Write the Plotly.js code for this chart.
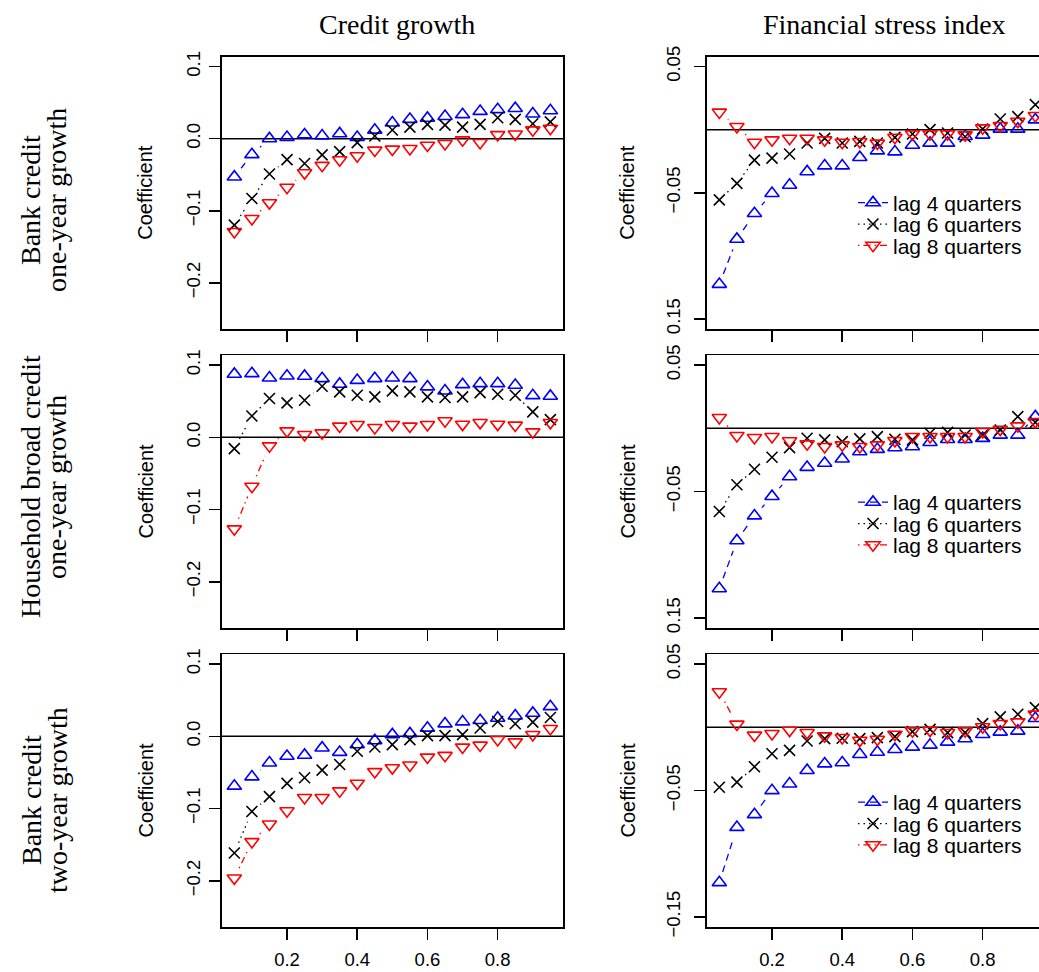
<!DOCTYPE html>
<html><head><meta charset="utf-8">
<script src="https://cdn.plot.ly/plotly-3.0.1.min.js"></script>
<style>html,body{margin:0;padding:0;background:#fff;} #chart{width:1039px;height:972px;}</style>
</head><body><div id="chart"></div>
<script>
// ---------------- data ----------------
const quantiles = [0.05,0.10,0.15,0.20,0.25,0.30,0.35,0.40,0.45,0.50,0.55,0.60,0.65,0.70,0.75,0.80,0.85,0.90,0.95];
const seriesNames = ['lag 4 quarters','lag 6 quarters','lag 8 quarters'];
const columnTitles = ['Credit growth','Financial stress index'];
const rowTitles = [['Bank credit','one-year growth'],['Household broad credit','one-year growth'],['Bank credit','two-year growth']];
const leftTickVals = [-0.2,-0.1,0.0,0.1];
const leftTickText = ['\u22120.2','\u22120.1','0.0','0.1'];
const rightTickVals = [-0.15,-0.05,0.05];
const rightTickTextTop = ['0.15','\u22120.05','0.05'];
const rightTickTextBottom = ['\u22120.15','\u22120.05','0.05'];
const xTickVals = [0.2,0.4,0.6,0.8];
const xTickText = ['0.2','0.4','0.6','0.8'];

// Credit growth column
const cg_bank1y_lag4 = [-0.053,-0.022,0.000,0.002,0.0055,0.004,0.007,0.002,0.012,0.022,0.027,0.0285,0.031,0.0335,0.038,0.0405,0.042,0.0345,0.039];
const cg_bank1y_lag6 = [-0.120,-0.083,-0.049,-0.029,-0.0345,-0.0225,-0.018,-0.0055,0.0037,0.012,0.016,0.0198,0.0189,0.016,0.0198,0.029,0.0267,0.0207,0.0234];
const cg_bank1y_lag8 = [-0.129,-0.111,-0.089,-0.0676,-0.0474,-0.0372,-0.0294,-0.0239,-0.0161,-0.0147,-0.0138,-0.0092,-0.0069,-0.0018,-0.0055,0.0055,0.0064,0.012,0.0143];

const cg_hh1y_lag4 = [0.0875,0.0884,0.0824,0.085,0.0847,0.0815,0.0736,0.079,0.0815,0.0824,0.0815,0.070,0.0644,0.0731,0.0745,0.0745,0.0722,0.0579,0.057];
const cg_hh1y_lag6 = [-0.0157,0.0296,0.0537,0.0477,0.0514,0.0708,0.063,0.0583,0.056,0.0644,0.063,0.056,0.0551,0.056,0.062,0.0597,0.0583,0.0352,0.0245];
const cg_hh1y_lag8 = [-0.1269,-0.068,-0.012,0.0088,0.0037,0.006,0.0153,0.0176,0.0134,0.0176,0.0153,0.0176,0.0227,0.018,0.0204,0.018,0.0167,0.0074,0.0204];

const cg_bank2y_lag4 = [-0.0688,-0.056,-0.0367,-0.0275,-0.0261,-0.016,-0.022,-0.0115,-0.006,0.0023,0.0037,0.0115,0.0174,0.0202,0.022,0.0252,0.0284,0.0321,0.0413];
const cg_bank2y_lag6 = [-0.1615,-0.1041,-0.0835,-0.0651,-0.0573,-0.0468,-0.039,-0.0206,-0.0147,-0.0115,-0.0046,0.0009,0.0009,0.0023,0.0115,0.0206,0.0174,0.0197,0.0261];
const cg_bank2y_lag8 = [-0.1963,-0.1459,-0.1216,-0.1032,-0.0849,-0.0849,-0.0757,-0.0651,-0.0491,-0.0436,-0.0399,-0.0289,-0.0266,-0.0151,-0.0124,-0.0046,-0.0078,0.0023,0.0106];

// Financial stress index column
const fsi_bank1y_lag4 = [-0.1225,-0.0868,-0.0664,-0.0505,-0.0439,-0.0333,-0.0286,-0.0286,-0.022,-0.0167,-0.0175,-0.0122,-0.0106,-0.0106,-0.0053,-0.0042,0.0005,0.0005,0.0079];
const fsi_bank1y_lag6 = [-0.0556,-0.0426,-0.0241,-0.0225,-0.0193,-0.0106,-0.0069,-0.0106,-0.0093,-0.0106,-0.0061,-0.0034,0.0,-0.0026,-0.0056,0.0005,0.0085,0.0103,0.0198];
const fsi_bank1y_lag8 = [0.0138,0.0024,-0.0101,-0.0082,-0.0069,-0.0069,-0.0082,-0.0101,-0.0095,-0.0108,-0.0061,-0.0034,-0.0034,-0.0034,-0.0042,0.0013,0.0032,0.0066,0.0111];

const fsi_hh1y_lag4 = [-0.1268,-0.0889,-0.0692,-0.0539,-0.0382,-0.0308,-0.0276,-0.0242,-0.0184,-0.0166,-0.0153,-0.0145,-0.0111,-0.0087,-0.0087,-0.0079,-0.0053,-0.0053,0.0092];
const fsi_hh1y_lag6 = [-0.0658,-0.0447,-0.0324,-0.0229,-0.0153,-0.0079,-0.0092,-0.0105,-0.0084,-0.0066,-0.0087,-0.0092,-0.0039,-0.0032,-0.0053,-0.0053,-0.0013,0.0092,0.0047];
const fsi_hh1y_lag8 = [0.0084,-0.0058,-0.0074,-0.0066,-0.01,-0.0124,-0.0145,-0.0132,-0.0145,-0.0132,-0.0097,-0.0066,-0.0066,-0.0066,-0.0066,-0.0026,-0.0008,0.0018,0.0053];

const fsi_bank2y_lag4 = [-0.1228,-0.0791,-0.069,-0.05,-0.0447,-0.0341,-0.0288,-0.028,-0.0214,-0.0196,-0.0175,-0.0156,-0.014,-0.0116,-0.009,-0.0056,-0.0037,-0.0029,0.0071];
const fsi_bank2y_lag6 = [-0.0474,-0.0434,-0.0312,-0.0209,-0.0183,-0.0108,-0.009,-0.0087,-0.009,-0.0082,-0.0074,-0.0034,-0.0016,-0.0042,-0.0042,0.0029,0.0082,0.0103,0.0156];
const fsi_bank2y_lag8 = [0.028,0.0024,-0.0063,-0.005,-0.0024,-0.0042,-0.0069,-0.0082,-0.0103,-0.0095,-0.0056,-0.0029,-0.0024,-0.0042,-0.0029,0.0003,0.0029,0.0042,0.0103];

// ---------------- layout geometry ----------------
const W = 1039, H = 972;
const colPx = [[221.7, 563], [706.7, 1039]];
const rowPx = [[56.5, 329], [355, 628], [654, 927]];
const xUnitPx = (563 - 221.7) / 0.972;
const xRanges = [[0.014, 0.986], [0.014, 0.014 + (1039 - 706.7) / xUnitPx]];
const yRanges = [[-0.264, 0.114], [-0.158, 0.058]];

const styles = [
  {color:'#0000FF', symbol:'triangle-up-open', dash:'7px,5px', size:12.5},
  {color:'#000000', symbol:'x-thin-open', dash:'1.5px,4px', size:11},
  {color:'#FF0000', symbol:'triangle-down-open', dash:'1.5px,4px,7px,4px', size:12.5}
];

const panels = [
  {row:0, col:0, series:[cg_bank1y_lag4, cg_bank1y_lag6, cg_bank1y_lag8]},
  {row:0, col:1, series:[fsi_bank1y_lag4, fsi_bank1y_lag6, fsi_bank1y_lag8], legend:'legend'},
  {row:1, col:0, series:[cg_hh1y_lag4, cg_hh1y_lag6, cg_hh1y_lag8]},
  {row:1, col:1, series:[fsi_hh1y_lag4, fsi_hh1y_lag6, fsi_hh1y_lag8], legend:'legend2'},
  {row:2, col:0, series:[cg_bank2y_lag4, cg_bank2y_lag6, cg_bank2y_lag8]},
  {row:2, col:1, series:[fsi_bank2y_lag4, fsi_bank2y_lag6, fsi_bank2y_lag8], legend:'legend3'}
];
const legendTopOffset = [126, 127, 128];

const GAP = 11; // px gap around points (R type="b")
function gapped(xs, ys, sx, sy) {
  const gx = [], gy = [];
  for (let i = 0; i < xs.length - 1; i++) {
    const dx = xs[i+1] - xs[i], dy = ys[i+1] - ys[i];
    const L = Math.hypot(dx * sx, dy * sy);
    if (L > 2 * GAP) {
      const t = GAP / L;
      gx.push(xs[i] + t * dx, xs[i+1] - t * dx, null);
      gy.push(ys[i] + t * dy, ys[i+1] - t * dy, null);
    }
  }
  return {x: gx, y: gy};
}

const tickFont = {family:'Liberation Sans, Arial, sans-serif', size:18.5, color:'#000'};
const data = [];
const layout = {
  width: W, height: H,
  margin: {l:0, r:0, t:0, b:0},
  paper_bgcolor: '#fff', plot_bgcolor: '#fff',
  showlegend: true,
  shapes: [], annotations: []
};

panels.forEach((p, i) => {
  const s = i === 0 ? '' : String(i + 1);
  const xa = 'x' + s, ya = 'y' + s;
  const xr = xRanges[p.col], yr = yRanges[p.col];
  const [px0, px1] = colPx[p.col];
  const [py0, py1] = rowPx[p.row];
  const sx = (px1 - px0) / (xr[1] - xr[0]);
  const sy = (py1 - py0) / (yr[1] - yr[0]);

  p.series.forEach((vals, k) => {
    const st = styles[k];
    const g = gapped(quantiles, vals, sx, sy);
    data.push({type:'scatter', mode:'lines', x:g.x, y:g.y, xaxis:xa, yaxis:ya,
      line:{color:st.color, width:1.3, dash:st.dash}, connectgaps:false,
      showlegend:false, hoverinfo:'skip'});
    data.push({type:'scatter', mode:'markers', x:quantiles, y:vals, xaxis:xa, yaxis:ya,
      name:seriesNames[k],
      marker:{symbol:st.symbol, size:st.size, color:st.color, line:{color:st.color, width:1.6}},
      showlegend:false});
  });
  if (p.legend) {
    p.series.forEach((vals, k) => {
      const st = styles[k];
      data.push({type:'scatter', mode:'lines+markers', x:[null], y:[null], xaxis:xa, yaxis:ya,
        name:seriesNames[k], legend:p.legend, showlegend:true,
        line:{color:st.color, width:1.3, dash:st.dash},
        marker:{symbol:st.symbol, size:st.size, color:st.color, line:{color:st.color, width:1.6}}});
    });
    layout[p.legend] = {
      x: 853 / W, xanchor:'left',
      y: 1 - (rowPx[p.row][0] + legendTopOffset[p.row]) / H, yanchor:'top',
      bgcolor:'rgba(0,0,0,0)', borderwidth:0,
      font:{family:'Liberation Sans, Arial, sans-serif', size:21, color:'#000'},
      itemclick:false, itemdoubleclick:false
    };
  }

  const isBottom = p.row === 2;
  layout['xaxis' + s] = {
    domain:[px0 / W, px1 / W], range:xr, anchor:ya,
    showline:true, mirror:true, linecolor:'#000', linewidth:1.5,
    ticks:'outside', ticklen:11, tickwidth:1.5, tickcolor:'#000',
    tickmode:'array', tickvals:xTickVals, ticktext:xTickText,
    showticklabels:isBottom, ticklabelstandoff:4,
    tickfont:tickFont, showgrid:false, zeroline:false, fixedrange:true
  };
  layout['yaxis' + s] = {
    domain:[1 - py1 / H, 1 - py0 / H], range:yr, anchor:xa,
    showline:true, mirror:p.col === 0, linecolor:'#000', linewidth:1.5,
    ticks:'outside', ticklen:11, tickwidth:1.5, tickcolor:'#000',
    tickmode:'array',
    tickvals: p.col === 0 ? leftTickVals : rightTickVals,
    ticktext: p.col === 0 ? leftTickText : (isBottom ? rightTickTextBottom : rightTickTextTop),
    tickangle:-90, ticklabelstandoff: p.col === 0 ? 2 : 7,
    tickfont:tickFont, showgrid:false, zeroline:false, fixedrange:true
  };
  layout.shapes.push({type:'line', xref:xa + ' domain', x0:0, x1:1, yref:ya, y0:0, y1:0,
    line:{color:'#000', width:1.5}, layer:'below'});

  // y axis label
  layout.annotations.push({text:'Coefficient', xref:'paper', yref:'paper',
    x:(p.col === 0 ? 145 : 627) / W, y:1 - ((py0 + py1) / 2) / H,
    textangle:-90, showarrow:false, xanchor:'center', yanchor:'middle',
    font:{family:'Liberation Sans, Arial, sans-serif', size:20, color:'#000'}});
});

// column titles
const serif = {family:'Liberation Serif, Times New Roman, serif', size:28, color:'#000'};
[397, 884].forEach((cx, c) => {
  layout.annotations.push({text:columnTitles[c], xref:'paper', yref:'paper',
    x:cx / W, y:1 - 25 / H, showarrow:false, xanchor:'center', yanchor:'middle', font:serif});
});
// row titles
const rowCenters = [200, 487, 800];
rowTitles.forEach((lines, r) => {
  [31, 57].forEach((lx, j) => {
    layout.annotations.push({text:lines[j], xref:'paper', yref:'paper',
      x:lx / W, y:1 - rowCenters[r] / H, textangle:-90, showarrow:false,
      xanchor:'center', yanchor:'middle', font:serif});
  });
});

Plotly.newPlot('chart', data, layout, {staticPlot:true, displayModeBar:false}).then(gd => {
  // tighten legend line spacing to match compact legend
  ['legend','legend2','legend3'].forEach(id => {
    const lg = gd.querySelector('g.' + id);
    if (!lg) return;
    const items = lg.querySelectorAll('g.traces');
    let y0 = null;
    items.forEach(it => {
      const m = /translate\(\s*([-\d.e]+)[ ,]+([-\d.e]+)\s*\)/.exec(it.getAttribute('transform') || '');
      if (!m) return;
      const x = parseFloat(m[1]), y = parseFloat(m[2]);
      if (y0 === null) y0 = y;
      it.setAttribute('transform', 'translate(' + x + ',' + (y0 + (y - y0) * 21.4 / 30.3) + ')');
    });
  });
});
</script>
</body></html>
